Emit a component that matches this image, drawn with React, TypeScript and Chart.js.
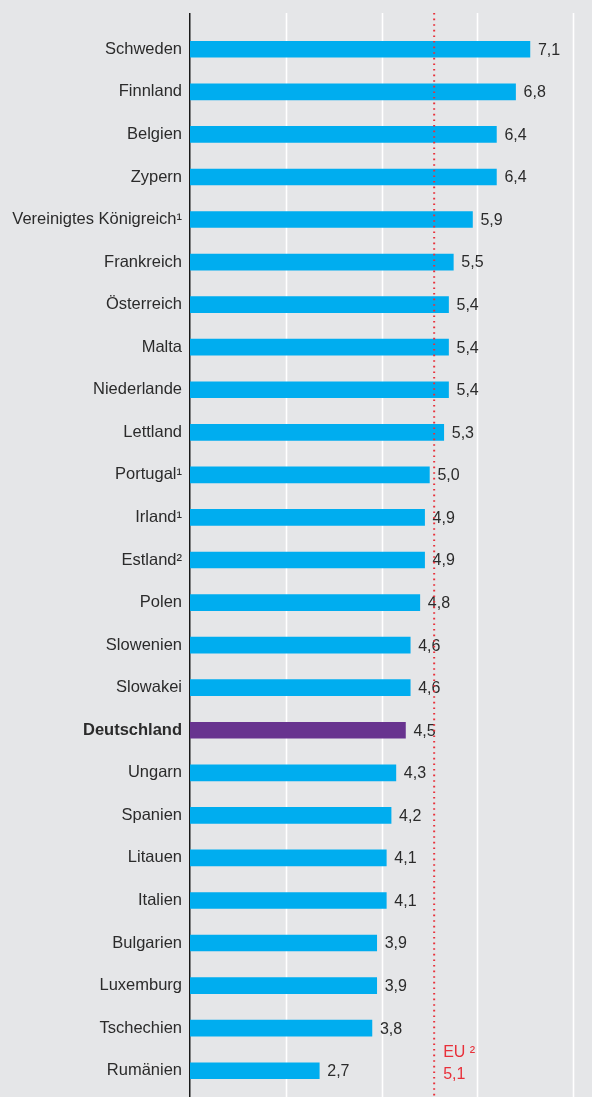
import React, { useEffect, useRef } from "react";
import { Chart, registerables } from "chart.js";

Chart.register(...registerables);

const countries: string[] = [
  "Schweden", "Finnland", "Belgien", "Zypern", "Vereinigtes Königreich¹",
  "Frankreich", "Österreich", "Malta", "Niederlande", "Lettland",
  "Portugal¹", "Irland¹", "Estland²", "Polen", "Slowenien",
  "Slowakei", "Deutschland", "Ungarn", "Spanien", "Litauen",
  "Italien", "Bulgarien", "Luxemburg", "Tschechien", "Rumänien",
];
const values: number[] = [
  7.1, 6.8, 6.4, 6.4, 5.9,
  5.5, 5.4, 5.4, 5.4, 5.3,
  5.0, 4.9, 4.9, 4.8, 4.6,
  4.6, 4.5, 4.3, 4.2, 4.1,
  4.1, 3.9, 3.9, 3.8, 2.7,
];
const highlight = "Deutschland";
const euValue = 5.1;
const euLabel = "EU ²";
const gridValues: number[] = [2, 4, 6, 8];

const BG = "#e5e6e8";
const BLUE = "#00adef";
const PURPLE = "#68338f";
const RED = "#e8303a";
const TEXT = "#2b2b2b";
const FONT = "Liberation Sans, Arial, Helvetica, sans-serif";

const fmt = (v: number) => v.toFixed(1).replace(".", ",");

export default function App() {
  const ref = useRef<HTMLCanvasElement | null>(null);

  useEffect(() => {
    document.body.style.margin = "0";
    document.body.style.background = BG;
    const canvas = ref.current;
    if (!canvas) return;
    const hi = countries.indexOf(highlight);
    const TOP = 13;

    const decor = {
      id: "decor",
      beforeDraw(chart: any) {
        const { ctx, width, height } = chart;
        ctx.save();
        ctx.fillStyle = BG;
        ctx.fillRect(0, 0, width, height);
        ctx.restore();
      },
      beforeDatasetsDraw(chart: any) {
        const { ctx, height } = chart;
        const xs = chart.scales.x;
        ctx.save();
        ctx.strokeStyle = "#ffffff";
        ctx.lineWidth = 1.6;
        gridValues.forEach((g) => {
          const x = Math.round(xs.getPixelForValue(g)) + 0.5;
          ctx.beginPath();
          ctx.moveTo(x, TOP);
          ctx.lineTo(x, height);
          ctx.stroke();
        });
        const x0 = xs.getPixelForValue(0) - 0.25;
        ctx.strokeStyle = "#1a1a1a";
        ctx.lineWidth = 1.5;
        ctx.beginPath();
        ctx.moveTo(x0, TOP);
        ctx.lineTo(x0, height);
        ctx.stroke();
        ctx.restore();
      },
      afterDatasetsDraw(chart: any) {
        const { ctx } = chart;
        const meta = chart.getDatasetMeta(0);
        ctx.save();
        ctx.font = `16px ${FONT}`;
        ctx.fillStyle = TEXT;
        ctx.textAlign = "left";
        ctx.textBaseline = "middle";
        meta.data.forEach((bar: any, i: number) => {
          ctx.fillText(fmt(values[i]), bar.x + 8, bar.y + 1);
        });
        ctx.restore();
      },
      afterDraw(chart: any) {
        const { ctx, height } = chart;
        const xs = chart.scales.x;
        const ys = chart.scales.y;
        const x = xs.getPixelForValue(euValue);
        ctx.save();
        ctx.strokeStyle = RED;
        ctx.lineWidth = 2;
        ctx.setLineDash([1.6, 4]);
        ctx.beginPath();
        ctx.moveTo(x, TOP);
        ctx.lineTo(x, height);
        ctx.stroke();
        ctx.setLineDash([]);
        const yLast = ys.getPixelForValue(countries.length - 1);
        ctx.fillStyle = RED;
        ctx.font = `16px ${FONT}`;
        ctx.textAlign = "left";
        ctx.textBaseline = "middle";
        ctx.fillText(euLabel, x + 9, yLast - 18);
        ctx.fillText(fmt(euValue), x + 9, yLast + 4);
        ctx.restore();
      },
    };

    const chart = new Chart(canvas, {
      type: "bar",
      data: {
        labels: countries,
        datasets: [
          {
            data: values,
            backgroundColor: countries.map((c) => (c === highlight ? PURPLE : BLUE)),
            barThickness: 16,
            borderWidth: 0,
          },
        ],
      },
      options: {
        indexAxis: "y",
        responsive: false,
        animation: false,
        devicePixelRatio: 1,
        layout: { padding: { top: 28, bottom: 5, right: 19, left: 0 } },
        plugins: { legend: { display: false }, tooltip: { enabled: false } },
        scales: {
          x: {
            type: "linear",
            min: 0,
            max: 8,
            display: false,
          },
          y: {
            type: "category",
            grid: { display: false, drawTicks: false },
            border: { display: false },
            afterFit: (scale: any) => {
              scale.width = 190;
              scale.paddingTop = 0;
              scale.paddingBottom = 0;
            },
            ticks: {
              padding: 8,
              autoSkip: false,
              color: TEXT,
              font: (c: any) => ({
                family: FONT,
                size: 16.5,
                weight: c.index === hi ? "bold" : "normal",
              }),
            },
          },
        },
      },
      plugins: [decor],
    } as any);

    return () => chart.destroy();
  }, []);

  return (
    <div style={{ width: 592, height: 1097, background: BG }}>
      <canvas ref={ref} width={592} height={1097} style={{ display: "block" }} />
    </div>
  );
}
